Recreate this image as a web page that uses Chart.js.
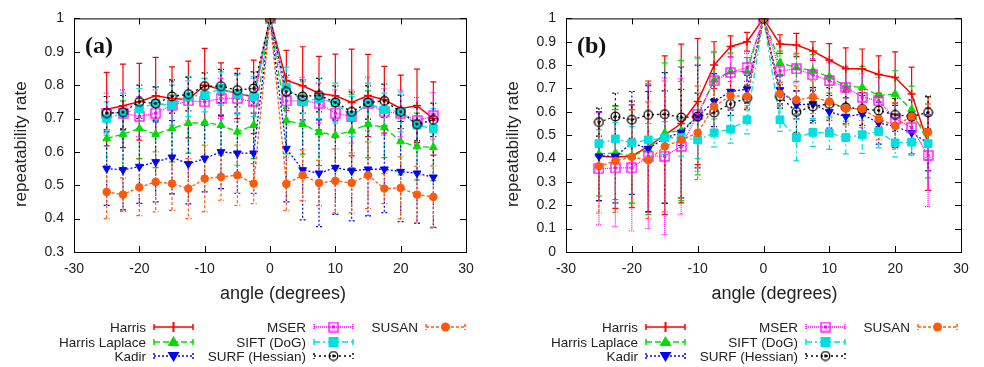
<!DOCTYPE html>
<html>
<head>
<meta charset="utf-8">
<script src="https://cdn.jsdelivr.net/npm/chart.js"></script>
<style>
  body { margin: 0; background: #fff; }
  #wrap { position: relative; width: 984px; height: 367px; }
  canvas { position: absolute; top: 0; }
</style>
</head>
<body>
<div id="wrap">
  <canvas id="chartA" width="492" height="367" style="left:0"></canvas>
  <canvas id="chartB" width="492" height="367" style="left:492px"></canvas>
</div>
<script>
// angles (degrees)
const angles = [-25, -22.5, -20, -17.5, -15, -12.5, -10, -7.5, -5, -2.5, 0, 2.5, 5, 7.5, 10, 12.5, 15, 17.5, 20, 22.5, 25];
const seriesNames = ['Harris', 'Harris Laplace', 'Kadir', 'MSER', 'SIFT (DoG)', 'SURF (Hessian)', 'SUSAN'];
const xTicks = [-30, -20, -10, 0, 10, 20, 30];
const yTicksA = [0.3, 0.4, 0.5, 0.6, 0.7, 0.8, 0.9, 1];
const yTicksB = [0, 0.1, 0.2, 0.3, 0.4, 0.5, 0.6, 0.7, 0.8, 0.9, 1];

// panel (a)
const harrisA = [0.728, 0.738, 0.75, 0.768, 0.76, 0.757, 0.80, 0.787, 0.775, 0.765, 1, 0.814, 0.798, 0.776, 0.768, 0.748, 0.769, 0.756, 0.73, 0.738, 0.70];
const harrisAErr = [0.11, 0.125, 0.115, 0.115, 0.095, 0.115, 0.11, 0.08, 0.075, 0.11, 0, 0.09, 0.117, 0.11, 0.125, 0.16, 0.123, 0.10, 0.10, 0.11, 0.11];
const hlapA = [0.64, 0.653, 0.67, 0.653, 0.67, 0.686, 0.688, 0.68, 0.66, 0.68, 1, 0.694, 0.683, 0.659, 0.65, 0.663, 0.683, 0.673, 0.631, 0.616, 0.614];
const hlapAErr = [0.09, 0.1, 0.09, 0.1, 0.1, 0.09, 0.1, 0.09, 0.1, 0.1, 0, 0.1, 0.09, 0.1, 0.1, 0.11, 0.1, 0.09, 0.1, 0.1, 0.1];
const kadirA = [0.55, 0.546, 0.556, 0.57, 0.584, 0.564, 0.58, 0.60, 0.596, 0.596, 1, 0.61, 0.546, 0.536, 0.553, 0.543, 0.548, 0.548, 0.541, 0.536, 0.524];
const kadirAErr = [0.11, 0.12, 0.11, 0.12, 0.11, 0.12, 0.1, 0.11, 0.12, 0.12, 0, 0.16, 0.15, 0.16, 0.14, 0.15, 0.14, 0.13, 0.15, 0.15, 0.15];
const mserA = [0.716, 0.716, 0.706, 0.716, 0.74, 0.753, 0.75, 0.76, 0.76, 0.75, 1, 0.753, 0.753, 0.746, 0.716, 0.706, 0.744, 0.72, 0.716, 0.693, 0.708];
const mserAErr = [0.06, 0.07, 0.06, 0.07, 0.07, 0.06, 0.07, 0.06, 0.07, 0.07, 0, 0.07, 0.07, 0.06, 0.07, 0.08, 0.08, 0.07, 0.07, 0.07, 0.07];
const siftA = [0.70, 0.716, 0.73, 0.745, 0.74, 0.766, 0.77, 0.79, 0.773, 0.766, 1, 0.794, 0.75, 0.76, 0.746, 0.706, 0.746, 0.726, 0.72, 0.68, 0.67];
const siftAErr = [0.05, 0.06, 0.06, 0.05, 0.06, 0.06, 0.05, 0.05, 0.06, 0.06, 0, 0.06, 0.06, 0.06, 0.06, 0.06, 0.06, 0.05, 0.06, 0.06, 0.06];
const surfA = [0.716, 0.719, 0.75, 0.745, 0.766, 0.773, 0.797, 0.797, 0.785, 0.79, 1, 0.78, 0.766, 0.77, 0.748, 0.72, 0.748, 0.753, 0.72, 0.683, 0.696];
const surfAErr = [0.05, 0.05, 0.05, 0.05, 0.05, 0.05, 0.04, 0.05, 0.05, 0.05, 0, 0.05, 0.05, 0.05, 0.05, 0.06, 0.05, 0.05, 0.05, 0.05, 0.05];
const susanA = [0.48, 0.472, 0.494, 0.51, 0.505, 0.49, 0.52, 0.525, 0.53, 0.505, 1, 0.504, 0.53, 0.507, 0.513, 0.507, 0.53, 0.49, 0.492, 0.472, 0.465];
const susanAErr = [0.08, 0.05, 0.085, 0.09, 0.08, 0.09, 0.1, 0.07, 0.09, 0.06, 0, 0.08, 0.076, 0.068, 0.096, 0.09, 0.1, 0.045, 0.093, 0.085, 0.093];

// panel (b)
const harrisB = [0.41, 0.407, 0.41, 0.452, 0.50, 0.55, 0.644, 0.80, 0.88, 0.90, 1, 0.89, 0.886, 0.86, 0.822, 0.784, 0.784, 0.76, 0.747, 0.676, 0.464];
const harrisBErr = [0.19, 0.22, 0.22, 0.28, 0.34, 0.34, 0.27, 0.10, 0.045, 0.04, 0, 0.04, 0.05, 0.04, 0.07, 0.09, 0.085, 0.08, 0.11, 0.115, 0.2];
const hlapB = [0.42, 0.424, 0.41, 0.44, 0.51, 0.52, 0.58, 0.737, 0.772, 0.772, 1, 0.81, 0.79, 0.775, 0.75, 0.71, 0.705, 0.67, 0.676, 0.61, 0.467];
const hlapBErr = [0.18, 0.2, 0.2, 0.28, 0.3, 0.3, 0.25, 0.12, 0.08, 0.06, 0, 0.05, 0.06, 0.07, 0.07, 0.08, 0.09, 0.09, 0.1, 0.1, 0.15];
const kadirB = [0.41, 0.41, 0.467, 0.442, 0.488, 0.512, 0.58, 0.644, 0.687, 0.697, 1, 0.694, 0.63, 0.634, 0.60, 0.58, 0.59, 0.552, 0.538, 0.51, 0.467];
const kadirBErr = [0.19, 0.2, 0.22, 0.27, 0.28, 0.28, 0.22, 0.12, 0.08, 0.06, 0, 0.06, 0.06, 0.07, 0.07, 0.08, 0.08, 0.09, 0.09, 0.09, 0.12];
const mserB = [0.356, 0.36, 0.36, 0.41, 0.41, 0.452, 0.59, 0.733, 0.768, 0.79, 1, 0.775, 0.784, 0.758, 0.733, 0.705, 0.663, 0.647, 0.57, 0.533, 0.414];
const mserBErr = [0.24, 0.25, 0.27, 0.31, 0.335, 0.29, 0.245, 0.12, 0.08, 0.06, 0, 0.05, 0.06, 0.07, 0.08, 0.09, 0.1, 0.1, 0.11, 0.12, 0.22];
const siftB = [0.464, 0.484, 0.467, 0.48, 0.488, 0.49, 0.48, 0.51, 0.526, 0.566, 1, 0.566, 0.49, 0.512, 0.509, 0.49, 0.502, 0.516, 0.467, 0.47, 0.464];
const siftBErr = [0.06, 0.07, 0.07, 0.07, 0.07, 0.08, 0.08, 0.06, 0.06, 0.06, 0, 0.05, 0.1, 0.06, 0.07, 0.07, 0.08, 0.07, 0.06, 0.05, 0.06];
const surfB = [0.556, 0.58, 0.566, 0.587, 0.59, 0.576, 0.58, 0.597, 0.634, 0.659, 1, 0.666, 0.60, 0.623, 0.634, 0.619, 0.612, 0.606, 0.587, 0.58, 0.597];
const surfBErr = [0.06, 0.1, 0.08, 0.1, 0.1, 0.12, 0.1, 0.06, 0.05, 0.05, 0, 0.05, 0.09, 0.07, 0.07, 0.07, 0.07, 0.07, 0.07, 0.07, 0.07];
const susanB = [0.367, 0.39, 0.407, 0.393, 0.452, 0.48, 0.51, 0.623, 0.669, 0.666, 1, 0.677, 0.651, 0.663, 0.644, 0.614, 0.612, 0.57, 0.54, 0.58, 0.513];
const susanBErr = [0.2, 0.22, 0.2, 0.25, 0.28, 0.25, 0.2, 0.1, 0.06, 0.05, 0, 0.05, 0.06, 0.07, 0.07, 0.07, 0.08, 0.09, 0.1, 0.1, 0.12];

const FONT = '"Liberation Sans", Arial, sans-serif';
const TEXT = '#222';

// marker images for open square w/ dot and open circle w/ dot
function makeMarker(kind, color) {
    const c = document.createElement('canvas');
    c.width = 11; c.height = 11;
    const g = c.getContext('2d');
    g.strokeStyle = color; g.fillStyle = color; g.lineWidth = 1.3;
    if (kind === 'sq') {
        g.strokeRect(1, 1, 9, 9);
        g.fillRect(4, 4, 3, 3);
    } else {
        g.beginPath(); g.arc(5.5, 5.5, 4.3, 0, Math.PI * 2); g.stroke();
        g.beginPath(); g.arc(5.5, 5.5, 1.4, 0, Math.PI * 2); g.fill();
    }
    return c;
}

const styles = [
    { color: '#ff0000', dash: [], pointStyle: 'cross', radius: 4, fill: '#ff0000', bw: 1.5 },
    { color: '#00dd00', dash: [6, 3], pointStyle: 'triangle', radius: 4.5, fill: '#00dd00', bw: 1 },
    { color: '#0000ff', dash: [2, 2], pointStyle: 'triangle', radius: 4.5, fill: '#0000ff', bw: 1, rot: 180 },
    { color: '#ff00ff', dash: [1, 1], pointStyle: makeMarker('sq', '#ff00ff'), radius: 5.5, fill: '#ff00ff', bw: 1 },
    { color: '#00dede', dash: [6, 3, 2, 3], pointStyle: 'rect', radius: 5.5, fill: '#00dede', bw: 1 },
    { color: '#000000', dash: [2, 3], pointStyle: makeMarker('ci', '#000000'), radius: 5.5, fill: '#000000', bw: 1 },
    { color: '#ff5a0a', dash: [3, 2], pointStyle: 'circle', radius: 3.8, fill: '#ff5a0a', bw: 1 }
];

// error bars, drawn with each series' colour and dash
const errorBars = {
    id: 'errorBars',
    beforeDatasetsDraw(chart) {
        const { ctx, chartArea, scales: { x, y } } = chart;
        ctx.save();
        ctx.beginPath();
        ctx.rect(chartArea.left, chartArea.top, chartArea.width, chartArea.height);
        ctx.clip();
        chart.data.datasets.forEach((ds) => {
            ctx.strokeStyle = ds.borderColor;
            ctx.lineWidth = 1.2;
            ctx.setLineDash(ds.borderDash || []);
            ds.data.forEach((p, i) => {
                const e = ds.errors[i];
                if (!e) return;
                const px = x.getPixelForValue(p.x);
                const top = y.getPixelForValue(p.y + e);
                const bot = y.getPixelForValue(p.y - e);
                ctx.beginPath();
                ctx.moveTo(px, top); ctx.lineTo(px, bot);
                ctx.moveTo(px - 3, top); ctx.lineTo(px + 3, top);
                ctx.moveTo(px - 3, bot); ctx.lineTo(px + 3, bot);
                ctx.stroke();
            });
        });
        ctx.restore();
    }
};

// gnuplot-like frame with inward ticks on all sides, plus axis titles
const frame = {
    id: 'frame',
    afterDraw(chart, args, opts) {
        const { ctx, chartArea: a, scales: { x, y } } = chart;
        ctx.save();
        ctx.strokeStyle = '#000';
        ctx.lineWidth = 1;
        ctx.strokeRect(a.left + 0.5, a.top + 0.5, a.width, a.height);
        ctx.beginPath();
        xTicks.forEach((v) => {
            const px = Math.round(x.getPixelForValue(v)) + 0.5;
            ctx.moveTo(px, a.bottom); ctx.lineTo(px, a.bottom - 6);
            ctx.moveTo(px, a.top); ctx.lineTo(px, a.top + 6);
        });
        y.ticks.forEach((t) => {
            const py = Math.round(y.getPixelForValue(t.value)) + 0.5;
            ctx.moveTo(a.left, py); ctx.lineTo(a.left + 6, py);
            ctx.moveTo(a.right, py); ctx.lineTo(a.right - 6, py);
        });
        ctx.stroke();

        ctx.fillStyle = TEXT;
        ctx.textAlign = 'center';
        ctx.textBaseline = 'middle';
        ctx.font = '18px ' + FONT;
        ctx.fillText('angle (degrees)', (a.left + a.right) / 2 + opts.dx, 294);
        ctx.font = '17px ' + FONT;
        ctx.translate(21, (a.top + a.bottom) / 2 + 9);
        ctx.rotate(-Math.PI / 2);
        ctx.fillText('repeatability rate', 0, 0);
        ctx.restore();
    }
};

function drawLegendMarker(ctx, st, cx, cy) {
    ctx.setLineDash([]);
    ctx.fillStyle = st.fill;
    ctx.strokeStyle = st.color;
    if (st.pointStyle === 'cross') {
        ctx.lineWidth = 2;
        ctx.beginPath(); ctx.moveTo(cx, cy - 5); ctx.lineTo(cx, cy + 5); ctx.stroke();
    } else if (st.pointStyle === 'triangle') {
        const s = st.rot ? -1 : 1;
        ctx.beginPath();
        ctx.moveTo(cx, cy - 6 * s); ctx.lineTo(cx - 6, cy + 4 * s); ctx.lineTo(cx + 6, cy + 4 * s);
        ctx.closePath(); ctx.fill();
    } else if (st.pointStyle === 'rect') {
        ctx.fillRect(cx - 5, cy - 5, 10, 10);
    } else if (st.pointStyle === 'circle') {
        ctx.beginPath(); ctx.arc(cx, cy, 4.5, 0, Math.PI * 2); ctx.fill();
    } else {
        ctx.drawImage(st.pointStyle, cx - 5.5, cy - 5.5);
    }
}

const legendBox = {
    id: 'legendBox',
    afterDraw(chart) {
        const { ctx } = chart;
        const cols = [146, 306, 418];
        const rows = [327, 342, 356];
        ctx.save();
        ctx.font = '13.5px ' + FONT;
        ctx.textAlign = 'right';
        ctx.textBaseline = 'middle';
        seriesNames.forEach((name, i) => {
            const col = Math.floor(i / 3), row = i % 3;
            const tx = cols[col], ty = rows[row];
            const st = styles[i];
            ctx.fillStyle = TEXT;
            ctx.fillText(name, tx, ty + 1);
            const x0 = tx + 8, x1 = tx + 47;
            ctx.strokeStyle = st.color;
            ctx.lineWidth = 1.5;
            ctx.setLineDash(st.dash);
            ctx.beginPath();
            ctx.moveTo(x0, ty); ctx.lineTo(x1, ty);
            ctx.moveTo(x0, ty - 3); ctx.lineTo(x0, ty + 3);
            ctx.moveTo(x1, ty - 3); ctx.lineTo(x1, ty + 3);
            ctx.stroke();
            drawLegendMarker(ctx, st, (x0 + x1) / 2, ty);
        });
        ctx.restore();
    }
};

const panelLabel = {
    id: 'panelLabel',
    afterDraw(chart, args, opts) {
        const { ctx, chartArea } = chart;
        ctx.save();
        ctx.font = 'bold 24px "Liberation Serif", serif';
        ctx.fillStyle = '#111';
        ctx.textBaseline = 'alphabetic';
        ctx.fillText(opts.text, chartArea.left + 11, chartArea.top + 35);
        ctx.restore();
    }
};

function makeChart(id, label, vals, errs, yTicks, padRight, padTop, titleDx) {
    const datasets = seriesNames.map((name, i) => {
        const st = styles[i];
        return {
            label: name,
            data: angles.map((a, j) => ({ x: a, y: vals[i][j] })),
            errors: errs[i],
            showLine: true,
            borderColor: st.color,
            backgroundColor: st.fill,
            borderWidth: i === 0 ? 1.5 : 1.3,
            borderDash: st.dash,
            pointStyle: st.pointStyle,
            pointRadius: st.radius,
            pointHoverRadius: st.radius,
            pointBorderWidth: st.bw,
            pointBackgroundColor: st.fill,
            pointBorderColor: st.color,
            pointRotation: st.rot || 0,
            order: seriesNames.length - i
        };
    });
    return new Chart(document.getElementById(id), {
        type: 'scatter',
        data: { datasets },
        options: {
            responsive: false,
            animation: false,
            devicePixelRatio: 1,
            layout: { padding: { left: 5, right: padRight, top: padTop, bottom: 63 } },
            plugins: {
                legend: { display: false },
                tooltip: { enabled: false },
                panelLabel: { text: label },
                frame: { dx: titleDx }
            },
            scales: {
                x: {
                    type: 'linear',
                    min: -30, max: 30,
                    afterBuildTicks: (s) => { s.ticks = xTicks.map((v) => ({ value: v })); },
                    afterFit: (s) => { s.height = 52; },
                    grid: { display: false, drawTicks: false },
                    border: { display: false },
                    ticks: { padding: 9, maxRotation: 0, color: TEXT, font: { family: FONT, size: 14 } }
                },
                y: {
                    min: yTicks[0], max: yTicks[yTicks.length - 1],
                    afterBuildTicks: (s) => { s.ticks = yTicks.map((v) => ({ value: v })); },
                    afterFit: (s) => { s.width = 69; },
                    grid: { display: false, drawTicks: false },
                    border: { display: false },
                    ticks: {
                        padding: 10, color: TEXT, font: { family: FONT, size: 14 },
                        callback: (v) => String(Math.round(v * 10) / 10)
                    }
                }
            }
        },
        plugins: [errorBars, frame, legendBox, panelLabel]
    });
}

makeChart('chartA', '(a)',
    [harrisA, hlapA, kadirA, mserA, siftA, surfA, susanA],
    [harrisAErr, hlapAErr, kadirAErr, mserAErr, siftAErr, surfAErr, susanAErr],
    yTicksA, 26, 18, 13);
makeChart('chartB', '(b)',
    [harrisB, hlapB, kadirB, mserB, siftB, surfB, susanB],
    [harrisBErr, hlapBErr, kadirBErr, mserBErr, siftBErr, surfBErr, susanBErr],
    yTicksB, 23, 17, 11);
</script>
</body>
</html>
